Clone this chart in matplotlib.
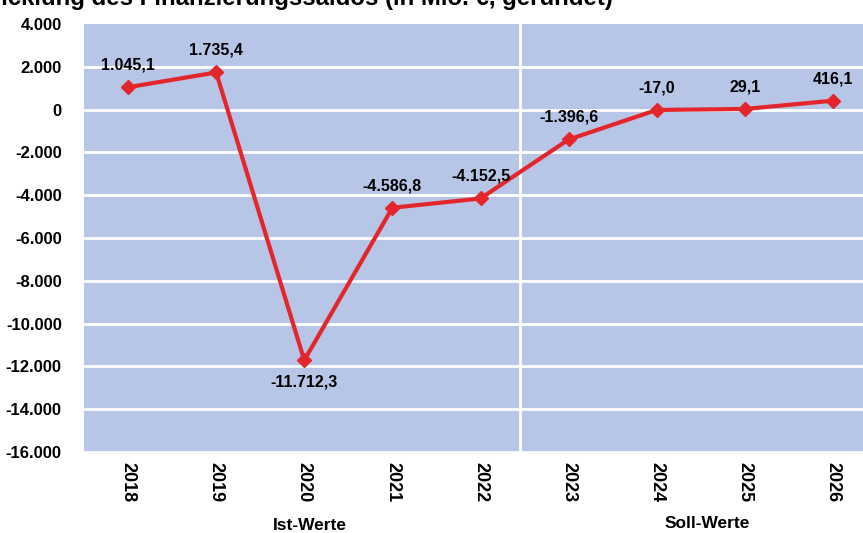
import matplotlib
matplotlib.use("Agg")
import matplotlib.pyplot as plt
import numpy as np

plt.rcParams['font.family'] = ['Liberation Sans', 'DejaVu Sans']

years = ["2018", "2019", "2020", "2021", "2022", "2023", "2024", "2025", "2026"]
values = [1045.1, 1735.4, -11712.3, -4586.8, -4152.5, -1396.6, -17.0, 29.1, 416.1]
labels = ["1.045,1", "1.735,4", "-11.712,3", "-4.586,8", "-4.152,5", "-1.396,6", "-17,0", "29,1", "416,1"]
yticks = [4000, 2000, 0, -2000, -4000, -6000, -8000, -10000, -12000, -14000, -16000]
ytick_labels = ["4.000", "2.000", "0", "-2.000", "-4.000", "-6.000", "-8.000", "-10.000", "-12.000", "-14.000", "-16.000"]
groups = ["Ist-Werte", "Soll-Werte"]
title = "Entwicklung des Finanzierungssaldos (in Mio. €, gerundet)"

W, H = 863, 533
fig = plt.figure(figsize=(W/100, H/100), dpi=100)
ax = fig.add_axes([84/W, 1-452/H, (877-84)/W, (452-24)/H])
bg = "#b7c6e6"
ax.set_facecolor(bg)
x = np.arange(len(years))
ax.set_xlim(-0.5, len(years)-0.5)
ax.set_ylim(-16000, 4000)
for t in yticks[1:]:
    ax.axhline(t, color="white", lw=2, zorder=1)
ax.axvline(4.45, color="white", lw=2, zorder=1)
for s in ax.spines.values():
    s.set_visible(False)

red = "#e3262b"
ax.plot(x, values, color=red, lw=3, marker="D", ms=7.5, zorder=3)
for i, (v, lab) in enumerate(zip(values, labels)):
    dy = -22 if v < -10000 else 22
    ax.annotate(lab, (i, v), xytext=(0, dy), textcoords="offset pixels",
                ha="center", va="center", fontsize=11.5, fontweight="bold")

ax.set_yticks(yticks)
ax.set_yticklabels(ytick_labels, fontsize=12, fontweight="bold")
ax.set_xticks(x)
ax.set_xticklabels(years, rotation=-90, fontsize=13, fontweight="bold")
ax.tick_params(axis="x", length=0, pad=7)
ax.tick_params(axis="y", length=0, pad=16)

fig.text(310/W, 1-526/H, groups[0], ha="center", va="center", fontsize=12.5, fontweight="bold")
fig.text(707/W, 1-524/H, groups[1], ha="center", va="center", fontsize=12.5, fontweight="bold")
fig.text(613/W, 1-5/H, title, ha="right", va="baseline", fontsize=17.3, fontweight="bold")

fig.savefig("out.png", dpi=100)
